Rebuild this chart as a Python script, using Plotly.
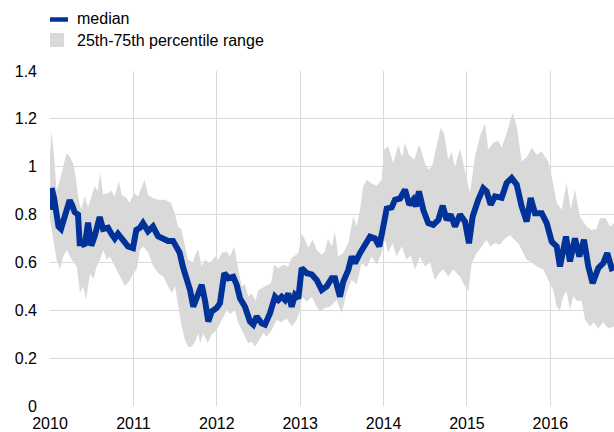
import plotly.graph_objects as go

# ---- data (fractional years) ----
median_x = [2010.000, 2010.020, 2010.048, 2010.078, 2010.102, 2010.132, 2010.156, 2010.192, 2010.236, 2010.264,
            2010.296, 2010.336, 2010.356, 2010.384, 2010.416, 2010.456, 2010.495, 2010.536, 2010.596, 2010.636,
            2010.695, 2010.735, 2010.776, 2010.815, 2010.875, 2010.935, 2010.995, 2011.035, 2011.079, 2011.115,
            2011.175, 2011.235, 2011.295, 2011.355, 2011.415, 2011.475, 2011.514, 2011.555, 2011.595, 2011.655,
            2011.679, 2011.718, 2011.759, 2011.819, 2011.859, 2011.898, 2011.939, 2011.999, 2012.038, 2012.090,
            2012.138, 2012.198, 2012.239, 2012.278, 2012.338, 2012.398, 2012.438, 2012.478, 2012.538, 2012.578,
            2012.638, 2012.698, 2012.738, 2012.778, 2012.818, 2012.858, 2012.898, 2012.938, 2012.978, 2013.018,
            2013.078, 2013.138, 2013.198, 2013.258, 2013.318, 2013.378, 2013.417, 2013.477, 2013.517, 2013.577,
            2013.618, 2013.657, 2013.717, 2013.777, 2013.837, 2013.897, 2013.948, 2013.989, 2014.037, 2014.097,
            2014.137, 2014.197, 2014.257, 2014.308, 2014.356, 2014.388, 2014.424, 2014.476, 2014.536, 2014.596,
            2014.656, 2014.709, 2014.757, 2014.805, 2014.856, 2014.916, 2014.976, 2015.024, 2015.068, 2015.135,
            2015.195, 2015.236, 2015.284, 2015.336, 2015.416, 2015.476, 2015.536, 2015.596, 2015.656, 2015.716,
            2015.764, 2015.815, 2015.896, 2015.956, 2016.016, 2016.076, 2016.115, 2016.187, 2016.235, 2016.295,
            2016.347, 2016.403, 2016.455, 2016.507, 2016.574, 2016.634, 2016.682, 2016.735, 2016.763]
median_y = [0.82, 0.91, 0.87, 0.79, 0.75, 0.74, 0.77, 0.80, 0.86, 0.84,
            0.81, 0.80, 0.68, 0.68, 0.67, 0.766, 0.67, 0.71, 0.79, 0.74,
            0.745, 0.72, 0.70, 0.72, 0.69, 0.667, 0.66, 0.736, 0.745, 0.764,
            0.73, 0.75, 0.71, 0.70, 0.69, 0.69, 0.67, 0.64, 0.58, 0.51,
            0.485, 0.415, 0.457, 0.506, 0.44, 0.353, 0.395, 0.41, 0.43, 0.555,
            0.534, 0.54, 0.506, 0.45, 0.415, 0.353, 0.34, 0.374, 0.346, 0.34,
            0.388, 0.457, 0.443, 0.457, 0.443, 0.47, 0.415, 0.464, 0.45, 0.576,
            0.555, 0.55, 0.527, 0.485, 0.50, 0.534, 0.534, 0.457, 0.52, 0.569,
            0.625, 0.597, 0.639, 0.68, 0.708, 0.70, 0.667, 0.736, 0.825, 0.83,
            0.862, 0.867, 0.904, 0.841, 0.862, 0.834, 0.897, 0.82, 0.764, 0.757,
            0.778, 0.837, 0.778, 0.80, 0.75, 0.80, 0.771, 0.68, 0.792, 0.862,
            0.91, 0.897, 0.841, 0.876, 0.87, 0.932, 0.953, 0.925, 0.834, 0.771,
            0.869, 0.806, 0.806, 0.764, 0.687, 0.667, 0.583, 0.708, 0.604, 0.70,
            0.625, 0.695, 0.583, 0.513, 0.576, 0.597, 0.639, 0.576, 0.58]

p75_x = [2010.000, 2010.018, 2010.048, 2010.078, 2010.108, 2010.144, 2010.200, 2010.240, 2010.276, 2010.312,
         2010.336, 2010.375, 2010.416, 2010.456, 2010.495, 2010.536, 2010.572, 2010.603, 2010.636, 2010.695,
         2010.735, 2010.776, 2010.824, 2010.863, 2010.915, 2010.956, 2011.007, 2011.055, 2011.135, 2011.175,
         2011.235, 2011.295, 2011.375, 2011.454, 2011.495, 2011.535, 2011.574, 2011.615, 2011.655, 2011.715,
         2011.739, 2011.778, 2011.819, 2011.858, 2011.918, 2011.978, 2012.018, 2012.059, 2012.119, 2012.158,
         2012.210, 2012.251, 2012.299, 2012.338, 2012.378, 2012.418, 2012.466, 2012.498, 2012.578, 2012.650,
         2012.689, 2012.737, 2012.797, 2012.857, 2012.898, 2012.977, 2013.018, 2013.057, 2013.097, 2013.150,
         2013.198, 2013.258, 2013.297, 2013.333, 2013.378, 2013.417, 2013.457, 2013.517, 2013.577, 2013.637,
         2013.677, 2013.717, 2013.757, 2013.797, 2013.857, 2013.917, 2013.977, 2014.005, 2014.056, 2014.116,
         2014.176, 2014.221, 2014.256, 2014.304, 2014.368, 2014.428, 2014.496, 2014.536, 2014.580, 2014.637,
         2014.684, 2014.724, 2014.776, 2014.816, 2014.856, 2014.916, 2014.976, 2015.036, 2015.096, 2015.156,
         2015.216, 2015.255, 2015.315, 2015.375, 2015.416, 2015.476, 2015.548, 2015.596, 2015.656, 2015.716,
         2015.776, 2015.836, 2015.896, 2015.975, 2016.016, 2016.076, 2016.135, 2016.195, 2016.243, 2016.295,
         2016.355, 2016.435, 2016.495, 2016.555, 2016.594, 2016.663, 2016.714, 2016.763]
p75_y = [1.05, 1.15, 1.05, 0.90, 0.93, 0.98, 1.057, 1.04, 1.015, 0.95,
         0.876, 0.82, 0.876, 0.83, 0.876, 0.918, 0.90, 0.973, 0.883, 0.89,
         0.90, 0.876, 0.939, 0.88, 0.87, 0.848, 0.89, 0.876, 0.946, 0.883,
         0.869, 0.862, 0.862, 0.848, 0.806, 0.75, 0.74, 0.667, 0.611, 0.60,
         0.632, 0.653, 0.583, 0.611, 0.597, 0.625, 0.611, 0.639, 0.646, 0.625,
         0.667, 0.583, 0.50, 0.51, 0.457, 0.47, 0.44, 0.485, 0.50, 0.513,
         0.59, 0.576, 0.59, 0.583, 0.618, 0.639, 0.722, 0.695, 0.66, 0.695,
         0.653, 0.632, 0.646, 0.70, 0.667, 0.729, 0.625, 0.64, 0.68, 0.792,
         0.75, 0.82, 0.918, 0.946, 0.93, 0.92, 0.946, 1.071, 1.085, 1.015,
         1.092, 1.04, 1.099, 1.05, 1.03, 1.092, 1.015, 0.987, 1.00, 1.085,
         1.162, 1.14, 1.03, 1.06, 1.00, 1.075, 0.987, 0.89, 1.043, 1.127,
         1.183, 1.071, 1.099, 1.11, 1.08, 1.141, 1.225, 1.17, 1.022, 1.04,
         1.078, 1.05, 1.064, 1.022, 0.959, 0.848, 0.82, 0.932, 0.82, 0.904,
         0.792, 0.75, 0.736, 0.74, 0.785, 0.785, 0.75, 0.764]

p25_x = [2010.000, 2010.040, 2010.080, 2010.120, 2010.159, 2010.200, 2010.260, 2010.320, 2010.360, 2010.399,
         2010.432, 2010.480, 2010.519, 2010.560, 2010.600, 2010.639, 2010.680, 2010.719, 2010.779, 2010.839,
         2010.899, 2010.959, 2010.999, 2011.040, 2011.079, 2011.119, 2011.179, 2011.239, 2011.299, 2011.358,
         2011.418, 2011.459, 2011.499, 2011.538, 2011.579, 2011.619, 2011.658, 2011.699, 2011.739, 2011.778,
         2011.799, 2011.838, 2011.891, 2011.939, 2011.999, 2012.059, 2012.119, 2012.158, 2012.218, 2012.258,
         2012.318, 2012.378, 2012.418, 2012.458, 2012.498, 2012.557, 2012.598, 2012.658, 2012.718, 2012.778,
         2012.838, 2012.898, 2012.958, 2012.998, 2013.025, 2013.078, 2013.138, 2013.198, 2013.237, 2013.297,
         2013.357, 2013.438, 2013.498, 2013.557, 2013.617, 2013.677, 2013.737, 2013.797, 2013.857, 2013.917,
         2013.977, 2014.017, 2014.056, 2014.107, 2014.157, 2014.217, 2014.277, 2014.325, 2014.376, 2014.436,
         2014.496, 2014.556, 2014.616, 2014.676, 2014.716, 2014.776, 2014.836, 2014.916, 2014.956, 2015.016,
         2015.056, 2015.116, 2015.176, 2015.236, 2015.276, 2015.336, 2015.396, 2015.456, 2015.516, 2015.555,
         2015.615, 2015.675, 2015.716, 2015.776, 2015.836, 2015.915, 2015.975, 2016.035, 2016.076, 2016.115,
         2016.155, 2016.195, 2016.235, 2016.275, 2016.315, 2016.375, 2016.415, 2016.475, 2016.519, 2016.574,
         2016.634, 2016.694, 2016.763]
p25_y = [0.778, 0.695, 0.611, 0.569, 0.625, 0.653, 0.611, 0.583, 0.472, 0.50,
         0.443, 0.555, 0.53, 0.583, 0.611, 0.653, 0.611, 0.625, 0.583, 0.541,
         0.50, 0.527, 0.555, 0.57, 0.653, 0.667, 0.64, 0.583, 0.555, 0.541,
         0.50, 0.472, 0.50, 0.415, 0.332, 0.276, 0.248, 0.248, 0.27, 0.304,
         0.262, 0.304, 0.262, 0.30, 0.318, 0.36, 0.40, 0.385, 0.40, 0.346,
         0.304, 0.262, 0.27, 0.248, 0.27, 0.304, 0.29, 0.318, 0.36, 0.35,
         0.367, 0.332, 0.36, 0.40, 0.457, 0.436, 0.457, 0.415, 0.395, 0.41,
         0.415, 0.443, 0.388, 0.472, 0.527, 0.51, 0.597, 0.58, 0.625, 0.59,
         0.639, 0.695, 0.639, 0.68, 0.625, 0.667, 0.611, 0.63, 0.569, 0.625,
         0.583, 0.60, 0.527, 0.56, 0.57, 0.541, 0.57, 0.541, 0.513, 0.48,
         0.597, 0.639, 0.667, 0.695, 0.667, 0.68, 0.675, 0.70, 0.715, 0.70,
         0.68, 0.64, 0.611, 0.60, 0.583, 0.57, 0.527, 0.485, 0.415, 0.40,
         0.46, 0.48, 0.40, 0.46, 0.44, 0.44, 0.36, 0.332, 0.35, 0.325,
         0.35, 0.325, 0.332]

year_ticks = [2010, 2011, 2012, 2013, 2014, 2015, 2016]
year_labels = ["2010", "2011", "2012", "2013", "2014", "2015", "2016"]
y_ticks = [0, 0.2, 0.4, 0.6, 0.8, 1.0, 1.2, 1.4]
y_labels = ["0", "0.2", "0.4", "0.6", "0.8", "1", "1.2", "1.4"]
legend_labels = ["median", "25th-75th percentile range"]

BLUE = "#003299"
GREY = "#d9d9d9"
GRID = "#d9d9d9"
FONT = "Liberation Sans, Arial, sans-serif"
FS = 16

W, H = 614, 432
ML, MR, MT, MB = 50, 0, 71, 26
PW, PH = W - ML - MR, H - MT - MB

def px(x):
    return (x - ML) / PW

def py(y):
    return (H - MB - y) / PH

fig = go.Figure()
fig.add_trace(go.Scatter(
    x=p75_x + p25_x[::-1], y=p75_y + p25_y[::-1],
    fill="toself", fillcolor=GREY, mode="lines", line=dict(width=0, color=GREY),
    name=legend_labels[1], hoverinfo="skip", showlegend=False))
fig.add_trace(go.Scatter(
    x=median_x, y=median_y, mode="lines",
    line=dict(color=BLUE, width=6), name=legend_labels[0], showlegend=False))

# manual legend (paper coordinates)
shapes = [
    dict(type="line", xref="paper", yref="paper", x0=px(50), x1=px(68), y0=py(19.5), y1=py(19.5),
         line=dict(color=BLUE, width=4.5)),
    dict(type="rect", xref="paper", yref="paper", x0=px(50), x1=px(64), y0=py(47), y1=py(33),
         fillcolor=GREY, line=dict(width=0)),
]
annotations = [
    dict(text=legend_labels[0], xref="paper", yref="paper", x=px(75), y=py(18.5), xanchor="left",
         yanchor="middle", showarrow=False, font=dict(size=FS, family=FONT, color="#000")),
    dict(text=legend_labels[1], xref="paper", yref="paper", x=px(75), y=py(41), xanchor="left",
         yanchor="middle", showarrow=False, font=dict(size=FS, family=FONT, color="#000")),
]

fig.update_layout(
    width=W, height=H,
    margin=dict(l=ML, r=MR, t=MT, b=MB, autoexpand=False),
    paper_bgcolor="white", plot_bgcolor="white",
    font=dict(family=FONT, size=FS, color="#000000"),
    showlegend=False,
    shapes=shapes, annotations=annotations,
    xaxis=dict(range=[2010, 2016.763], tickvals=year_ticks, ticktext=year_labels,
               showgrid=True, gridcolor=GRID, gridwidth=1, zeroline=False,
               showline=False, ticks="", ticklabelstandoff=6, fixedrange=True),
    yaxis=dict(range=[0, 1.4], tickvals=y_ticks, ticktext=y_labels,
               showgrid=True, gridcolor=GRID, gridwidth=1, zeroline=False,
               showline=False, ticks="", ticklabelstandoff=12, fixedrange=True),
)

fig.write_html("out.html", config={"displayModeBar": False},
               post_script="document.body.style.margin='0';document.body.style.padding='0';")
